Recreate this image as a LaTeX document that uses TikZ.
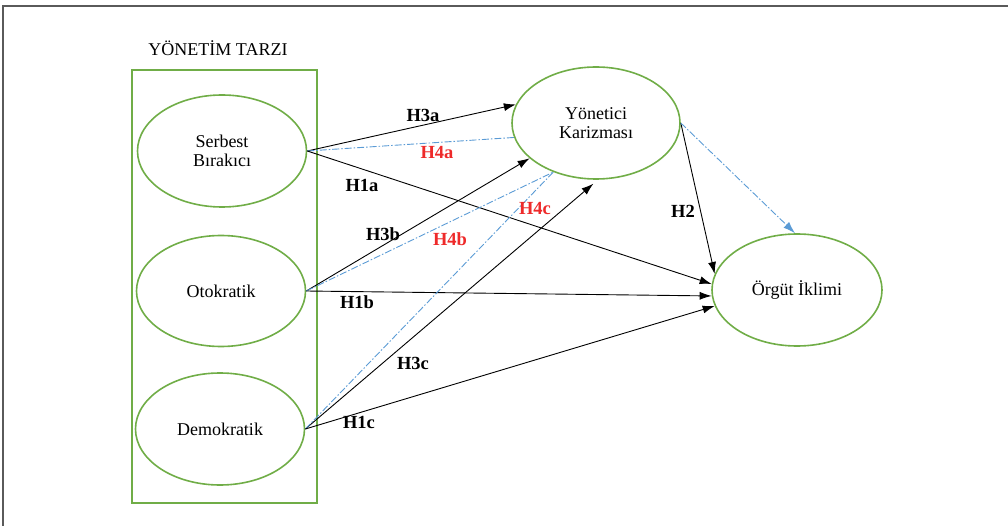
\documentclass[tikz,border=0pt]{standalone}
\usepackage{fontspec}
\setmainfont{Liberation Serif}
\usetikzlibrary{shapes.geometric,arrows.meta}
\definecolor{boxgreen}{HTML}{70AD47}
\definecolor{linkblue}{HTML}{5B9BD5}
\definecolor{hypred}{HTML}{EE2A2A}
\definecolor{framegray}{HTML}{5A5A5A}

\begin{document}
\begin{tikzpicture}[x=1pt,y=-1pt, >={Latex[length=12pt,width=8pt]},
        fac/.style={ellipse, draw=boxgreen, line width=1.6pt, minimum width=169pt, minimum height=112pt, inner sep=0pt, align=center, font=\fontsize{18}{19}\selectfont},
        hyp/.style={font=\bfseries\fontsize{18.5}{19}\selectfont},
        hypr/.style={hyp, text=hypred},
        link/.style={->, line width=0.9pt},
        medi/.style={linkblue, line width=0.9pt, dash pattern=on 7pt off 2pt on 1.5pt off 2pt}]
        \useasboundingbox(0,0)rectangle(1008,526);
        \draw[framegray, line width=1.6pt](3,526)--(3,6)--(1008,6);

        \node[font=\fontsize{18}{19}\selectfont] (title) at (218,48) {YÖNETİM TARZI};
        \draw[boxgreen, line width=1.6pt](132,70)rectangle(317,503);

        \node[fac] (sb) at (222,151) {Serbest\\Bırakıcı};
        \node[fac, minimum height=111pt] (ot) at (221,291) {Otokratik};
        \node[fac] (dm) at (220,429) {Demokratik};
        \node[fac, minimum width=168pt] (yk) at (596,123) {Yönetici\\Karizması};
        \node[fac, minimum width=170pt] (oi) at (797,290) {Örgüt İklimi};

        \draw[link](sb.east)--(yk.167);
        \draw[medi](sb.east)--(yk.190);
        \draw[link](sb.east)--(oi.176);
        \draw[link](ot.east)--(yk.208);
        \draw[medi](ot.east)--(yk.229);
        \draw[link](ot.east)--(oi.184);
        \draw[link, shorten >=6pt](dm.east)--(yk.272);
        \draw[medi](dm.east)--(yk.229);
        \draw[link](dm.east)--(oi.191);
        \draw[link](yk.east)--(oi.169);
        \draw[medi, ->, >={Latex[length=12pt,width=8pt,linkblue]}](yk.east)--(oi.92);

        \node[hyp] (h3a) at (423,115) {H3a};
        \node[hypr] (h4a) at (437,153) {H4a};
        \node[hyp] (h1a) at (362,185) {H1a};
        \node[hyp] (h3b) at (383,234) {H3b};
        \node[hypr] (h4b) at (450,239) {H4b};
        \node[hypr] (h4c) at (535,208) {H4c};
        \node[hyp] (h1b) at (357,302) {H1b};
        \node[hyp] (h3c) at (413,363) {H3c};
        \node[hyp] (h1c) at (359,422) {H1c};
        \node[hyp] (h2) at (683,211) {H2};
    \end{tikzpicture}
\end{document}
